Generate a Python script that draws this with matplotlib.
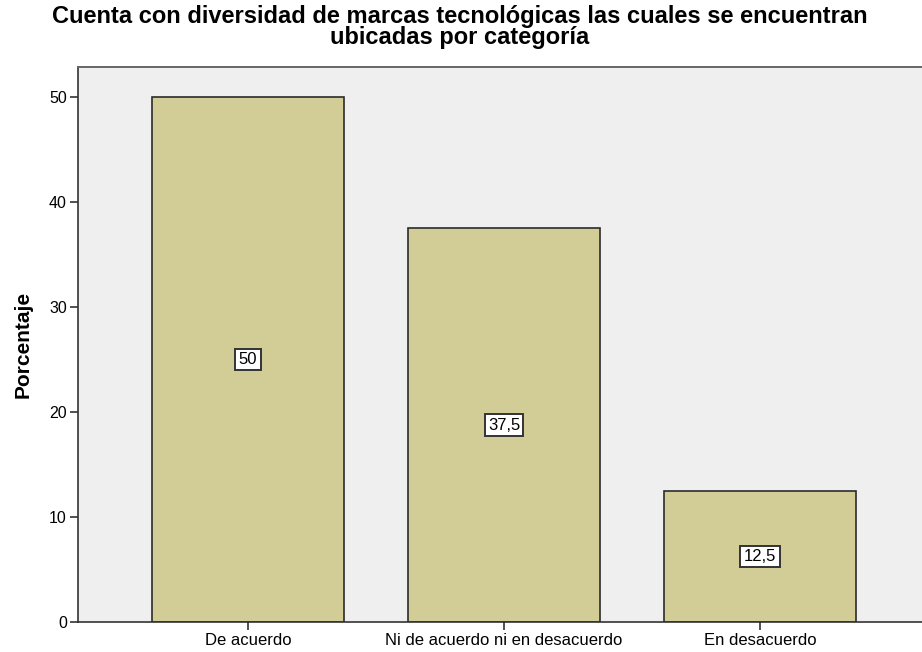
import numpy as np
import matplotlib.pyplot as plt

categories = ['De acuerdo', 'Ni de acuerdo ni en desacuerdo', 'En desacuerdo']
values = [50, 37.5, 12.5]
value_labels = ['50', '37,5', '12,5']
yticks = [0, 10, 20, 30, 40, 50]

plt.rcParams['font.family'] = ['Liberation Sans', 'DejaVu Sans']

fig = plt.figure(figsize=(9.22, 6.52), dpi=100)
ax = fig.add_axes([78 / 922, 30 / 652, (930 - 78) / 922, (622 - 67) / 652])
ax.set_facecolor('#efefef')

x = np.arange(len(categories))
ax.bar(x, values, width=0.75, color='#d2cd96', edgecolor='#2b2b2b', linewidth=1.2, zorder=2)

for xi, v, lab in zip(x, values, value_labels):
    ax.text(xi, v / 2, lab, ha='center', va='center', fontsize=12, zorder=3,
            bbox=dict(boxstyle='square,pad=0.2', facecolor='white', edgecolor='#333333', linewidth=1.4))

ax.set_xlim(-0.664, 2.664)
ax.set_ylim(0, 52.86)
ax.set_xticks(x)
ax.set_xticklabels(categories, fontsize=12)
ax.set_yticks(yticks)
ax.set_yticklabels([str(t) for t in yticks], fontsize=11.5)
ax.tick_params(axis='both', direction='out', length=6, width=1.2, color='#333333', pad=2)

for side in ['left', 'bottom']:
    ax.spines[side].set_color('#333333')
    ax.spines[side].set_linewidth(1.2)
ax.spines['top'].set_color('#666666')
ax.spines['top'].set_linewidth(1.4)
ax.spines['right'].set_visible(False)

ax.set_ylabel('Porcentaje', fontsize=15, fontweight='bold', labelpad=12)
fig.text(460 / 922, 1 - 27 / 652,
         'Cuenta con diversidad de marcas tecnológicas las cuales se encuentran\nubicadas por categoría',
         ha='center', va='center', fontsize=17, fontweight='bold', linespacing=0.92)

fig.savefig('out.png', dpi=100)
